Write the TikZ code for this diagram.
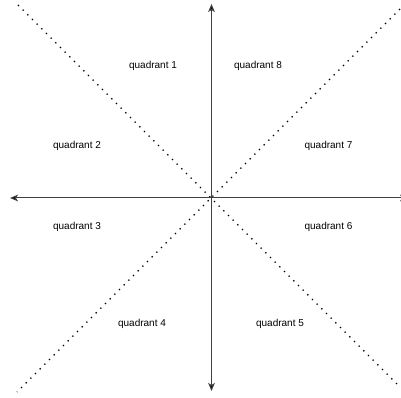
\documentclass[tikz,border=0pt]{standalone}
\usepackage{fontspec}
\setmainfont{Liberation Sans}
\usetikzlibrary{arrows.meta}
\tikzset{
  % --- axes and diagonals ---
  axis/.style={draw=black!75, line width=0.75pt,
               -{Stealth[length=6pt,width=5pt,inset=1.5pt,fill=black]}},
  axisboth/.style={axis, {Stealth[length=6pt,width=5pt,inset=1.5pt,fill=black]}-{Stealth[length=6pt,width=5pt,inset=1.5pt,fill=black]}},
  diag/.style={draw=black, line width=1pt, dash pattern=on 1pt off 3.95pt},
  % --- quadrant labels ---
  qlabel/.style={font=\fontsize{7.5}{9}\selectfont, inner sep=1pt},
}

\begin{document}
\begin{tikzpicture}[x=0.75pt, y=0.75pt]
  \useasboundingbox (0,0) rectangle (401,398);
  % --- origin and end points ---
  \coordinate (o)   at (211.5,200);
  \coordinate (top) at (211.5,394);
  \coordinate (bot) at (211.5,7);
  \coordinate (lft) at (10,200);
  \coordinate (rgt) at (408,200);
  \coordinate (d1a) at (18,393);
  \coordinate (d1b) at (400,11);
  \coordinate (d2a) at (400,389);
  \coordinate (d2b) at (17,6);

  % --- dotted diagonals ---
  \draw[diag] (d1a) -- (d1b);
  \draw[diag] (d2a) -- (d2b);

  % --- axes ---
  \draw[axisboth] (bot) -- (top);
  \draw[axisboth] (lft) -- (rgt);

  % --- quadrant labels ---
  \node[qlabel] (q1) at (153,332) {quadrant 1};
  \node[qlabel] (q2) at (77,252)  {quadrant 2};
  \node[qlabel] (q3) at (77,171)  {quadrant 3};
  \node[qlabel] (q4) at (142,74)  {quadrant 4};
  \node[qlabel] (q5) at (280,74)  {quadrant 5};
  \node[qlabel] (q6) at (328.5,171) {quadrant 6};
  \node[qlabel] (q7) at (328.5,252) {quadrant 7};
  \node[qlabel] (q8) at (258,332) {quadrant 8};
\end{tikzpicture}
\end{document}
